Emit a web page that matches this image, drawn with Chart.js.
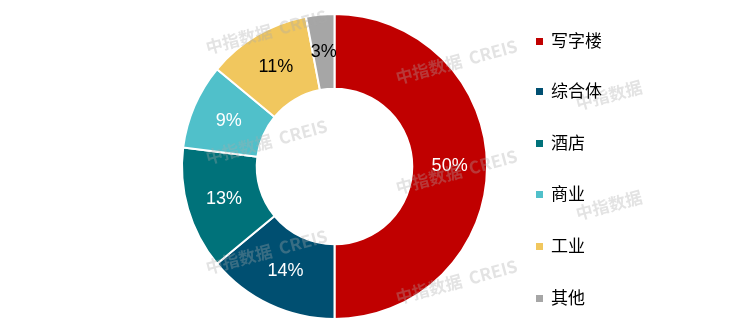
<!DOCTYPE html>
<html>
<head>
<meta charset="utf-8">
<script src="https://cdn.jsdelivr.net/npm/chart.js@4"></script>
<style>
  html, body { margin: 0; padding: 0; background: #fff; }
  #wrap { position: relative; width: 749px; height: 335px; }
  #legend { position: absolute; left: 536px; top: 0; margin: 0; padding: 0; list-style: none;
            font-family: "Noto Sans CJK SC", sans-serif; font-size: 17px; color: #000; }
  #legend li { position: absolute; left: 0; white-space: nowrap; line-height: 20px; }
  #legend span.box { display: inline-block; width: 7px; height: 7px; margin-right: 8px; vertical-align: 2px; }
</style>
</head>
<body>
<div id="wrap">
  <canvas id="pie" width="749" height="335"></canvas>
  <ul id="legend"></ul>
</div>
<script>
// data
const categories = ['写字楼', '综合体', '酒店', '商业', '工业', '其他'];
const shares = [50, 14, 13, 9, 11, 3];
const colors = ['#C00000', '#004F71', '#00727A', '#50C0CA', '#F1C75E', '#A6A6A6'];
const labelColors = ['#fff', '#fff', '#fff', '#fff', '#000', '#000'];

// watermark "中指数据 CREIS" (right column only shows the Chinese part)
const watermarkPlugin = {
    id: 'watermark',
    afterDraw(chart) {
        const c = chart.ctx;
        const spots = [[272, 48, 1], [462, 78, 1], [272, 158, 1], [462, 188, 1], [272, 268, 1], [462, 298, 1], [642, 104, 0], [642, 214, 0]];
        c.save();
        c.fillStyle = 'rgba(170,170,170,0.33)';
        c.font = 'bold 17px "Noto Sans CJK SC", sans-serif';
        c.textAlign = 'left';
        c.textBaseline = 'middle';
        spots.forEach(([x, y, full]) => {
            c.save();
            c.translate(x - 66, y);
            c.rotate(-15 * Math.PI / 180);
            c.fillText(full ? '中指数据  CREIS' : '中指数据', 0, 0);
            c.restore();
        });
        c.restore();
    }
};

// percent labels inside each slice
const sliceLabels = {
    id: 'sliceLabels',
    afterDatasetsDraw(chart) {
        const c = chart.ctx;
        const meta = chart.getDatasetMeta(0);
        c.save();
        c.font = '18px "Liberation Sans", Arial, sans-serif';
        c.textAlign = 'center';
        c.textBaseline = 'middle';
        meta.data.forEach((arc, i) => {
            const p = arc.tooltipPosition();
            c.fillStyle = labelColors[i];
            c.fillText(shares[i] + '%', p.x, p.y);
        });
        c.restore();
    }
};

new Chart(document.getElementById('pie'), {
    type: 'doughnut',
    data: {
        labels: categories,
        datasets: [{
            data: shares,
            backgroundColor: colors,
            borderColor: '#fff',
            borderWidth: 2
        }]
    },
    options: {
        responsive: false,
        animation: false,
        cutout: '51%',
        layout: { padding: { left: 181, right: 261, top: 13, bottom: 15 } },
        plugins: {
            legend: { display: false },
            tooltip: { enabled: false }
        }
    },
    plugins: [sliceLabels, watermarkPlugin]
});

// legend on the right
const legend = document.getElementById('legend');
const rowY = [30, 80, 132, 183, 235, 287];
categories.forEach((name, i) => {
    const li = document.createElement('li');
    li.style.top = rowY[i] + 'px';
    li.innerHTML = `<span class="box" style="background:${colors[i]}"></span>${name}`;
    legend.appendChild(li);
});
</script>
</body>
</html>
